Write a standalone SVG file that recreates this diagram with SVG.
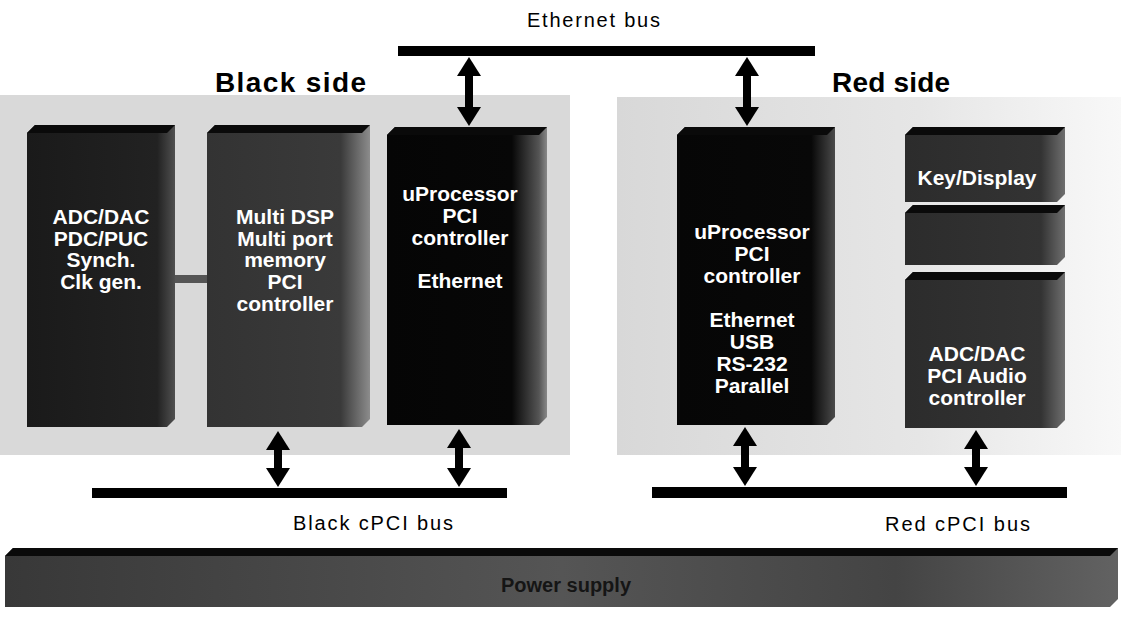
<svg xmlns="http://www.w3.org/2000/svg" width="1121" height="617" viewBox="0 0 1121 617">
  <style>
    .blk { font-family: "Liberation Sans", Arial, sans-serif; font-weight: bold; font-size: 21px; fill: #ffffff; text-anchor: middle; }
    .cap { font-family: "Liberation Sans", Arial, sans-serif; font-size: 20px; fill: #000000; }
    .side { font-family: "Liberation Sans", Arial, sans-serif; font-weight: bold; font-size: 28px; fill: #000000; }
    .bus { fill: #000000; }
    .top { fill: #0a0a0a; }
    .arrow { stroke: #000000; stroke-width: 8; fill: none; marker-start: url(#head); marker-end: url(#head); }
  </style>
  <defs>
    <marker id="head" markerUnits="userSpaceOnUse" markerWidth="20" markerHeight="24" refX="1" refY="12" orient="auto-start-reverse">
      <path d="M0,0 L19,12 L0,24 Z" fill="#000000"/>
    </marker>
    <linearGradient id="gBlack" x1="0" y1="0" x2="1" y2="0">
      <stop offset="0" stop-color="#050505"/>
      <stop offset="0.78" stop-color="#070707"/>
      <stop offset="0.95" stop-color="#555555"/>
      <stop offset="1" stop-color="#888888"/>
    </linearGradient>
    <linearGradient id="gRedCpu" x1="0" y1="0" x2="1" y2="0">
      <stop offset="0" stop-color="#060606"/>
      <stop offset="0.85" stop-color="#080808"/>
      <stop offset="1" stop-color="#4a4a4a"/>
    </linearGradient>
    <linearGradient id="gDark" x1="0" y1="0" x2="1" y2="0">
      <stop offset="0" stop-color="#1a1a1a"/>
      <stop offset="0.88" stop-color="#222222"/>
      <stop offset="1" stop-color="#505050"/>
    </linearGradient>
    <linearGradient id="gDsp" x1="0" y1="0" x2="1" y2="0">
      <stop offset="0" stop-color="#333333"/>
      <stop offset="0.82" stop-color="#3a3a3a"/>
      <stop offset="1" stop-color="#8c8c8c"/>
    </linearGradient>
    <linearGradient id="gSmall" x1="0" y1="0" x2="1" y2="0">
      <stop offset="0" stop-color="#2c2c2c"/>
      <stop offset="0.85" stop-color="#333333"/>
      <stop offset="1" stop-color="#6e6e6e"/>
    </linearGradient>
    <linearGradient id="gPower" x1="0" y1="0" x2="1" y2="0">
      <stop offset="0" stop-color="#383838"/>
      <stop offset="0.5" stop-color="#555555"/>
      <stop offset="0.8" stop-color="#444444"/>
      <stop offset="1" stop-color="#626262"/>
    </linearGradient>
    <linearGradient id="gRedPanel" x1="0" y1="0" x2="1" y2="0">
      <stop offset="0" stop-color="#d8d8d8"/>
      <stop offset="0.6" stop-color="#e6e6e6"/>
      <stop offset="1" stop-color="#f8f8f8"/>
    </linearGradient>
  </defs>

  <rect width="1121" height="617" fill="#ffffff"/>

  <!-- side panels -->
  <g id="black-panel">
    <rect x="0" y="95" width="570" height="360" fill="#d9d9d9"/>
  </g>
  <g id="red-panel">
    <rect x="617" y="97" width="504" height="358" fill="url(#gRedPanel)"/>
  </g>

  <!-- titles -->
  <text class="cap" x="527" y="27" textLength="133" lengthAdjust="spacing">Ethernet  bus</text>
  <text class="side" x="215" y="92" textLength="151" lengthAdjust="spacing">Black side</text>
  <text class="side" x="832" y="92" textLength="118" lengthAdjust="spacing">Red side</text>

  <!-- black side blocks -->
  <g id="adc-dac">
    <path d="M27,133 L35,125 L175,125 L175,419 L167,427 L27,427 Z" fill="url(#gDark)"/>
    <path class="top" d="M27,133 L35,125 L175,125 L167,133 Z"/>
    <text class="blk" x="101" y="224">ADC/DAC</text>
    <text class="blk" x="101" y="246">PDC/PUC</text>
    <text class="blk" x="101" y="267">Synch.</text>
    <text class="blk" x="101" y="289">Clk gen.</text>
  </g>
  <g id="dsp">
    <path d="M207,133 L215,125 L370,125 L370,419 L362,427 L207,427 Z" fill="url(#gDsp)"/>
    <path class="top" d="M207,133 L215,125 L370,125 L362,133 Z"/>
    <text class="blk" x="285" y="224">Multi DSP</text>
    <text class="blk" x="285" y="246">Multi port</text>
    <text class="blk" x="285" y="267">memory</text>
    <text class="blk" x="285" y="289">PCI</text>
    <text class="blk" x="285" y="311">controller</text>
  </g>
  <g id="black-cpu">
    <path d="M387,135 L395,127 L547,127 L547,417 L539,425 L387,425 Z" fill="url(#gBlack)"/>
    <path class="top" d="M387,135 L395,127 L547,127 L539,135 Z"/>
    <text class="blk" x="460" y="201">uProcessor</text>
    <text class="blk" x="460" y="223">PCI</text>
    <text class="blk" x="460" y="245">controller</text>
    <text class="blk" x="460" y="288">Ethernet</text>
  </g>

  <!-- red side blocks -->
  <g id="red-cpu">
    <path d="M677,135 L685,127 L835,127 L835,417 L827,425 L677,425 Z" fill="url(#gRedCpu)"/>
    <path class="top" d="M677,135 L685,127 L835,127 L827,135 Z"/>
    <text class="blk" x="752" y="239">uProcessor</text>
    <text class="blk" x="752" y="261">PCI</text>
    <text class="blk" x="752" y="283">controller</text>
    <text class="blk" x="752" y="327">Ethernet</text>
    <text class="blk" x="752" y="349">USB</text>
    <text class="blk" x="752" y="371">RS-232</text>
    <text class="blk" x="752" y="393">Parallel</text>
  </g>
  <g id="key-display">
    <path d="M905,135 L913,127 L1065,127 L1065,194 L1057,202 L905,202 Z" fill="url(#gSmall)"/>
    <path class="top" d="M905,135 L913,127 L1065,127 L1057,135 Z"/>
    <text class="blk" x="977" y="185">Key/Display</text>
  </g>
  <g id="mid-module">
    <path d="M905,213 L913,205 L1065,205 L1065,257 L1057,265 L905,265 Z" fill="url(#gSmall)"/>
    <path class="top" d="M905,213 L913,205 L1065,205 L1057,213 Z"/>
  </g>
  <g id="audio">
    <path d="M905,280 L913,272 L1065,272 L1065,420 L1057,428 L905,428 Z" fill="url(#gSmall)"/>
    <path class="top" d="M905,280 L913,272 L1065,272 L1057,280 Z"/>
    <text class="blk" x="977" y="361">ADC/DAC</text>
    <text class="blk" x="977" y="383">PCI Audio</text>
    <text class="blk" x="977" y="405">controller</text>
  </g>

  <!-- buses and links -->
  <g id="connectors">
    <rect class="bus" x="398" y="46" width="417" height="10"/>
    <rect class="bus" x="92" y="488" width="415" height="10"/>
    <rect class="bus" x="652" y="487" width="415" height="11"/>
    <rect x="175" y="275" width="32" height="8" fill="#555555"/>
    <line class="arrow" x1="469" y1="75" x2="469" y2="108"/>
    <line class="arrow" x1="747" y1="75" x2="747" y2="108"/>
    <line class="arrow" x1="278" y1="449" x2="278" y2="469"/>
    <line class="arrow" x1="459" y1="447" x2="459" y2="469"/>
    <line class="arrow" x1="745" y1="445" x2="745" y2="468"/>
    <line class="arrow" x1="976" y1="448" x2="976" y2="468"/>
  </g>

  <text class="cap" x="293" y="530" textLength="160" lengthAdjust="spacing">Black cPCI  bus</text>
  <text class="cap" x="885" y="531" textLength="145" lengthAdjust="spacing">Red cPCI  bus</text>

  <!-- power supply rail -->
  <g id="power-supply">
    <path d="M5,556 L13,548 L1118,548 L1118,599 L1110,607 L5,607 Z" fill="url(#gPower)"/>
    <path class="top" d="M5,556 L13,548 L1118,548 L1110,556 Z"/>
    <text x="566" y="592" font-family="Liberation Sans, Arial, sans-serif" font-weight="bold" font-size="20" fill="#151515" text-anchor="middle">Power supply</text>
  </g>
</svg>
